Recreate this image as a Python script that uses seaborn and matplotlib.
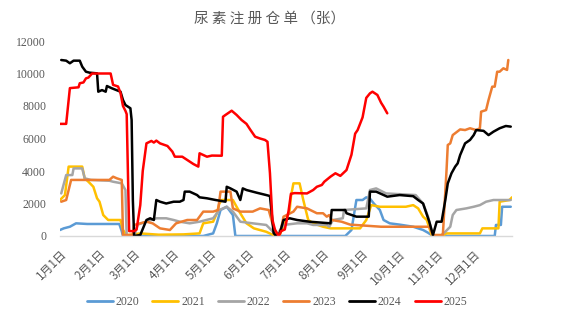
import matplotlib
matplotlib.use("Agg")
import matplotlib.pyplot as plt
import seaborn as sns
import pandas as pd
from matplotlib.lines import Line2D

# ---------------- data (day of year, value) ----------------
years = ["2020", "2021", "2022", "2023", "2024", "2025"]
colors = ["#5B9BD5", "#FFC000", "#A5A5A5", "#ED7D31", "#000000", "#FF0000"]

days_2020 = [0, 3, 8, 13, 22, 48, 50, 51, 116, 124, 127, 130, 135, 140, 142, 231, 236, 240, 245, 248, 251, 254,
             259, 262, 267, 275, 286, 294, 298, 302, 352, 353, 357, 358, 365]
vals_2020 = [370, 470, 570, 780, 740, 740, 300, 0, 0, 160, 780, 1600, 1800, 1290, 0, 0, 370, 2215, 2215, 2380,
             2300, 2010, 1600, 985, 780, 700, 570, 370, 200, 0, 0, 680, 680, 1800, 1800]

days_2021 = [0, 4, 7, 18, 20, 23, 27, 30, 32, 35, 39, 49, 51, 54, 65, 80, 100, 113, 116, 124, 127, 129, 131,
             140, 143, 146, 151, 157, 167, 173, 178, 181, 186, 187, 189, 194, 197, 201, 205, 213, 219, 243,
             248, 252, 259, 280, 286, 290, 294, 297, 301, 310, 313, 340, 342, 355, 356, 364, 366]
vals_2021 = [2215, 2520, 4270, 4270, 3550, 3340, 3030, 2320, 2110, 1290, 985, 985, 370, 50, 160, 80, 100, 160,
             780, 880, 1400, 2000, 2215, 2215, 1800, 1400, 780, 470, 260, 50, 100, 570, 1600, 2420, 3240, 3240,
             2215, 985, 780, 570, 470, 470, 985, 1900, 1800, 1800, 1900, 1700, 1190, 985, 50, 50, 160, 160,
             470, 470, 2110, 2215, 2380]

days_2022 = [1, 5, 10, 11, 18, 19, 20, 25, 40, 43, 50, 53, 54, 60, 63, 70, 78, 86, 92, 97, 105, 113, 124, 129,
             135, 140, 146, 156, 167, 172, 175, 181, 192, 200, 205, 216, 218, 221, 229, 230, 248, 251, 256,
             264, 288, 294, 298, 302, 308, 312, 316, 318, 321, 329, 335, 340, 345, 351, 365]
vals_2022 = [2620, 3750, 3750, 4160, 4160, 3860, 3550, 3450, 3400, 3340, 3240, 2830, 0, 0, 700, 880, 1090,
             1090, 985, 880, 780, 880, 1090, 1600, 1800, 1500, 880, 780, 680, 300, 0, 680, 780, 780, 680, 680,
             570, 985, 1090, 1600, 1700, 2830, 2930, 2620, 2520, 2000, 1190, 0, 0, 260, 570, 1290, 1600,
             1700, 1800, 1900, 2110, 2215, 2215]

days_2023 = [1, 5, 9, 40, 43, 46, 50, 51, 59, 60, 65, 70, 75, 81, 89, 94, 103, 111, 113, 116, 124, 128, 130,
             138, 140, 146, 156, 162, 169, 172, 175, 178, 181, 189, 192, 200, 208, 213, 216, 218, 220, 228,
             235, 260, 299, 302, 310, 313, 314, 316, 318, 324, 328, 332, 337, 340, 341, 345, 347, 350, 352,
             354, 356, 359, 362, 363]
vals_2023 = [2110, 2215, 3450, 3450, 3650, 3550, 3450, 60, 60, 680, 780, 880, 780, 470, 370, 780, 985, 985,
             1190, 1500, 1500, 1600, 2730, 2730, 1700, 1500, 1500, 1700, 1600, 780, 60, 60, 1190, 1500, 1800,
             1700, 1400, 1400, 1190, 1290, 985, 880, 700, 570, 570, 60, 60, 4060, 5600, 5700, 6210, 6560,
             6520, 6630, 6520, 6630, 7650, 7750, 8370, 9190, 9190, 10110, 10110, 10320, 10220, 10830]

days_2024 = [1, 5, 8, 11, 16, 18, 21, 24, 30, 31, 34, 37, 38, 42, 49, 51, 53, 57, 58, 59, 60, 65, 70, 73, 76,
             78, 81, 86, 92, 97, 100, 101, 105, 111, 113, 119, 126, 134, 135, 138, 143, 146, 148, 151, 159,
             167, 170, 173, 175, 178, 181, 186, 192, 202, 219, 220, 231, 232, 240, 250, 251, 256, 265, 275,
             286, 290, 294, 299, 302, 305, 309, 312, 314, 317, 320, 322, 324, 328, 332, 335, 337, 343, 347,
             351, 356, 361, 365]
vals_2024 = [10830, 10790, 10630, 10790, 10790, 10420, 10110, 10050, 10010, 8880, 8980, 8880, 9230, 9090,
             8880, 8370, 8060, 7860, 7140, 2200, 0, 60, 985, 1090, 985, 2215, 2110, 2000, 2110, 2110, 2215,
             2730, 2730, 2520, 2380, 2320, 2215, 2110, 3030, 2930, 2730, 2215, 2930, 2830, 2670, 2520, 2460,
             180, 0, 180, 985, 1090, 985, 880, 780, 1600, 1600, 1400, 1190, 1190, 2730, 2730, 2420, 2520,
             2450, 2215, 2000, 880, 60, 880, 880, 2215, 3240, 3860, 4270, 4470, 4980, 5700, 5910, 6210, 6520,
             6470, 6210, 6420, 6630, 6770, 6730]

days_2025 = [0, 5, 8, 15, 16, 19, 21, 23, 26, 41, 43, 47, 49, 51, 53, 54, 56, 60, 62, 65, 67, 70, 74, 76, 78,
             81, 87, 91, 93, 99, 103, 108, 112, 113, 119, 123, 131, 132, 134, 139, 143, 147, 151, 154, 158,
             162, 166, 168, 170, 172, 174, 177, 179, 182, 185, 187, 190, 200, 205, 208, 212, 214, 219, 223,
             227, 232, 236, 239, 241, 245, 248, 251, 253, 257, 260, 262, 265]
vals_2025 = [6900, 6900, 9100, 9150, 9400, 9450, 9700, 9750, 10000, 10000, 9300, 9200, 8800, 8000, 7700, 7500,
             300, 300, 400, 1900, 4000, 5700, 5850, 5750, 5870, 5700, 5540, 5190, 4880, 4880, 4680, 4430,
             4270, 5090, 4880, 4950, 4940, 7340, 7450, 7710, 7450, 7140, 6900, 6550, 6110, 6000, 5910, 5800,
             3870, 1000, 400, 0, 300, 400, 1500, 2600, 2640, 2620, 2830, 3030, 3140, 3340, 3650, 3860, 3700,
             4060, 5000, 6300, 6520, 7300, 8500, 8780, 8880, 8680, 8200, 7960, 7550]

month_days = [0, 31, 60, 91, 121, 152, 182, 213, 244, 274, 305, 335]
month_labels = ["1月1日", "2月1日", "3月1日", "4月1日", "5月1日", "6月1日",
                "7月1日", "8月1日", "9月1日", "10月1日", "11月1日", "12月1日"]
y_ticks = [0, 2000, 4000, 6000, 8000, 10000, 12000]
title = "尿素注册仓单（张）"

series = {
    "2020": (days_2020, vals_2020), "2021": (days_2021, vals_2021), "2022": (days_2022, vals_2022),
    "2023": (days_2023, vals_2023), "2024": (days_2024, vals_2024), "2025": (days_2025, vals_2025),
}
frames = [pd.DataFrame({"day": d, "value": v, "year": y}) for y, (d, v) in series.items()]
df = pd.concat(frames, ignore_index=True)

# ---------------- plot ----------------
sns.set_theme(style="white")
plt.rcParams["font.family"] = ["Liberation Serif", "Noto Sans CJK SC", "DejaVu Sans"]

fig = plt.figure(figsize=(5.79, 3.19), dpi=100)
ax = fig.add_axes([60 / 579, 1 - 236 / 319, (512 - 60) / 579, (236 - 41) / 319])

sns.lineplot(data=df, x="day", y="value", hue="year", hue_order=years,
             palette=dict(zip(years, colors)), estimator=None, sort=False,
             linewidth=1.8, legend=False, ax=ax)

ax.set_xlim(0, 366)
ax.set_ylim(0, 12000)
ax.set_xlabel("")
ax.set_ylabel("")
ax.set_yticks(y_ticks)
ax.set_yticklabels([str(t) for t in y_ticks], fontsize=8.5, color="#595959",
                   family=["Liberation Serif"])
ax.set_xticks(month_days)
ax.set_xticklabels(month_labels, rotation=45, ha="right", va="top", rotation_mode="anchor",
                   fontsize=8.5, color="#595959", family=["Noto Sans CJK SC", "DejaVu Sans"])
ax.tick_params(axis="y", length=0, pad=10)
ax.tick_params(axis="x", length=4, width=0.8, color="#D9D9D9", direction="out", pad=4)
for s in ["left", "right", "top"]:
    ax.spines[s].set_visible(False)
ax.spines["bottom"].set_color("#D9D9D9")
ax.spines["bottom"].set_linewidth(1.0)
ax.grid(False)

fig.text(270 / 579, 1 - 19 / 319, " ".join(title[:6]) + " " + title[6:], ha="center", va="center",
         fontsize=10.5, color="#595959", family=["Noto Sans CJK SC", "DejaVu Sans"])

handles = [Line2D([0], [0], color=c, lw=2) for c in colors]
leg = fig.legend(handles, years, loc="center", bbox_to_anchor=(277 / 579, 1 - 302 / 319), ncol=6,
                 frameon=False, fontsize=8.5, handlelength=2.2, handletextpad=0.25,
                 columnspacing=1.1, prop={"family": "Liberation Serif", "size": 8.5})
for t in leg.get_texts():
    t.set_color("#595959")

fig.savefig("out.png", dpi=100)
